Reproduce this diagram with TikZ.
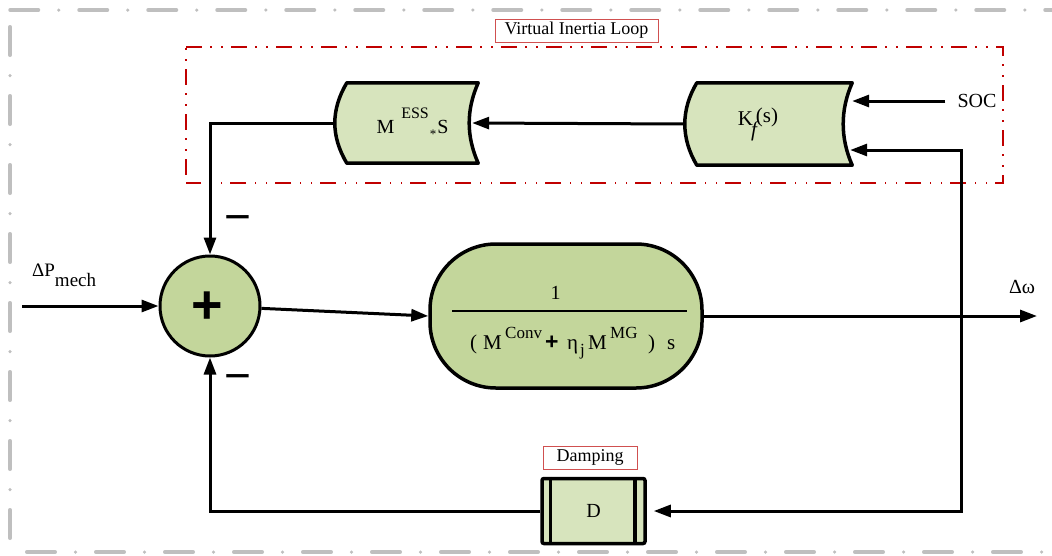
\documentclass[tikz,border=0pt]{standalone}
\usepackage{fontspec}
\setmainfont{Liberation Serif}
\newfontfamily\signfont{Liberation Sans}
\usetikzlibrary{arrows.meta,calc}
\pgfdeclarelayer{bg}
\pgfsetlayers{bg,main}
\definecolor{lightolive}{HTML}{D7E4BD}
\definecolor{olive}{HTML}{C3D69B}
\definecolor{loopred}{HTML}{C00000}
\definecolor{tagred}{HTML}{D05050}
\definecolor{framegray}{HTML}{BFBFBF}
\newcommand{\fsz}[1]{\fontsize{#1}{#1}\selectfont}
% storage-style block: convex left side, concave right side
\newcommand{\storeoutline}[1]{%
  \begin{pgfonlayer}{bg}
    \draw[storeline] (#1.north west)
      .. controls ([xshift=-16pt,yshift=-27pt]#1.north west) and ([xshift=-16pt,yshift=27pt]#1.south west) .. (#1.south west)
      -- (#1.south east)
      .. controls ([xshift=-12pt,yshift=27pt]#1.south east) and ([xshift=-12pt,yshift=-27pt]#1.north east) .. (#1.north east)
      -- cycle;
  \end{pgfonlayer}}
\begin{document}
\begin{tikzpicture}[x=1pt,y=-1pt,
  wire/.style={line width=3pt},
  arr/.style={wire,-{Triangle[length=17pt,width=12pt]}},
  storenode/.style={inner sep=0pt},
  storeline/.style={line width=3.5pt,fill=lightolive,line join=round},
  sumnode/.style={circle,draw,line width=3pt,fill=olive,minimum size=100pt,inner sep=0pt},
  bigblock/.style={draw,line width=3.5pt,fill=olive,rounded corners=66pt,minimum width=272pt,minimum height=144pt},
  dmpblock/.style={draw,line width=3.5pt,fill=lightolive,rounded corners=2pt,minimum width=103pt,minimum height=65pt,font=\fsz{20}},
  tag/.style={draw=tagred,line width=1pt,inner sep=0pt,minimum height=23pt,font=\fsz{18}},
  sign/.style={font=\signfont\fsz{46},inner sep=0pt},
  frame/.style={draw=framegray,line width=3.5pt,line cap=round,dash pattern=on 28.5pt off 20.25pt on 0pt off 20.25pt},
  loopframe/.style={draw=loopred,line width=1.6pt,dash pattern=on 16pt off 8pt on 1.5pt off 9.5pt on 1.5pt off 8.5pt}]
\useasboundingbox (0,0) rectangle (1052,555);

% outer frame
\begin{scope}
  \clip (0,0) rectangle (1052,555);
  \draw[frame] (10,10) -- (1075,10);
  \draw[frame,dash phase=52.25pt] (10,10) -- (10,552);
  \draw[frame,dash phase=52.25pt] (10,552) -- (1075,552);
\end{scope}

% virtual inertia loop frame
\draw[loopframe] (186,47) -- (1003,47) -- (1003,183) -- (186,183);
\draw[loopframe,dash phase=23pt] (186,47) -- (186,183);
\node[tag,minimum width=163pt] (vtag) at (576.5,30.5) {Virtual Inertia Loop};

% blocks of the loop
\node[storenode,minimum width=131pt,minimum height=80pt,font=\fsz{20}] (mess) at (412.5,123)
  {M\hspace{7pt}\raisebox{15pt}{\fsz{16}ESS}\hspace{1pt}\raisebox{-5pt}{\fsz{13}*}\hspace{1pt}S};
\storeoutline{mess}
\node[storenode,minimum width=155pt,minimum height=82pt,font=\fsz{21}] (kf) at (774.5,124)
  {K\hspace{-2pt}\raisebox{-11pt}{\itshape f}\hspace{-1pt}\raisebox{3pt}{(s)}\hspace{33pt}\mbox{}};
\storeoutline{kf}
\node[font=\fsz{20},inner xsep=12pt,inner ysep=0pt] (soc) at (977,101) {SOC};

% summing junction
\node[sumnode] (sum) at (210,306) {};
\node[font=\signfont\bfseries\fsz{54},inner sep=0pt] (plus) at (207,308) {+};
\node[sign] (m1) at (238,224) {−};
\node[sign] (m2) at (238,383) {−};
\coordinate (pin) at (22,306);
\node[font=\fsz{19},anchor=base west,inner sep=0pt] (dp) at (32,276) {ΔP\raisebox{-10pt}{mech}};

% plant block
\node[bigblock] (blk) at (566,316) {};
\node[font=\fsz{20},inner sep=0pt] (num) at (555.5,292.5) {1};
\draw[line width=2pt] (452,311) -- (687,311);
\node[font=\fsz{21},anchor=base west,inner sep=0pt] (den) at (470,349) {%
  \makebox[13pt][l]{(}%
  \makebox[22pt][l]{M}%
  \makebox[40pt][l]{\raisebox{11pt}{\fsz{17}Conv}}%
  \makebox[22pt][l]{\signfont\bfseries\fsz{23}+}%
  \makebox[13pt][l]{η}%
  \makebox[8pt][l]{\raisebox{-6pt}{\fsz{17}j}}%
  \makebox[22pt][l]{M}%
  \makebox[38pt][l]{\raisebox{11pt}{\fsz{17}MG}}%
  \makebox[19pt][l]{)}%
  s};

% output
\coordinate (out) at (1037,316);
\coordinate (br) at (961,316);
\node[font=\fsz{20},inner sep=0pt] (dw) at (1022,287) {Δω};

% damping block
\node[dmpblock] (dmp) at (593.5,511) {D};
\draw[line width=3.5pt] ([xshift=10pt]dmp.north west) -- ([xshift=10pt]dmp.south west);
\draw[line width=3.5pt] ([xshift=-12pt]dmp.north east) -- ([xshift=-12pt]dmp.south east);
\node[tag,minimum width=94pt] (dtag) at (590,457.5) {Damping};

% connectors
\draw[arr] (pin) -- (sum.west);
\draw[arr] (sum) -- (blk.west);
\draw[arr] (blk.east) -- (out);
\draw[arr] (br) |- ([xshift=-2pt,yshift=-26pt]kf.east);
\draw[arr,shorten >=7pt] (br) |- (dmp.east);
\draw[arr] (soc.west) -- (soc.west -| kf.east);
\draw[arr] ([xshift=-12pt]kf.west) -- ([xshift=-6pt]mess.east);
\draw[arr] ([xshift=-12pt]mess.west) -| (sum.north);
\draw[arr] (dmp.west) -| (sum.south);
\end{tikzpicture}
\end{document}
